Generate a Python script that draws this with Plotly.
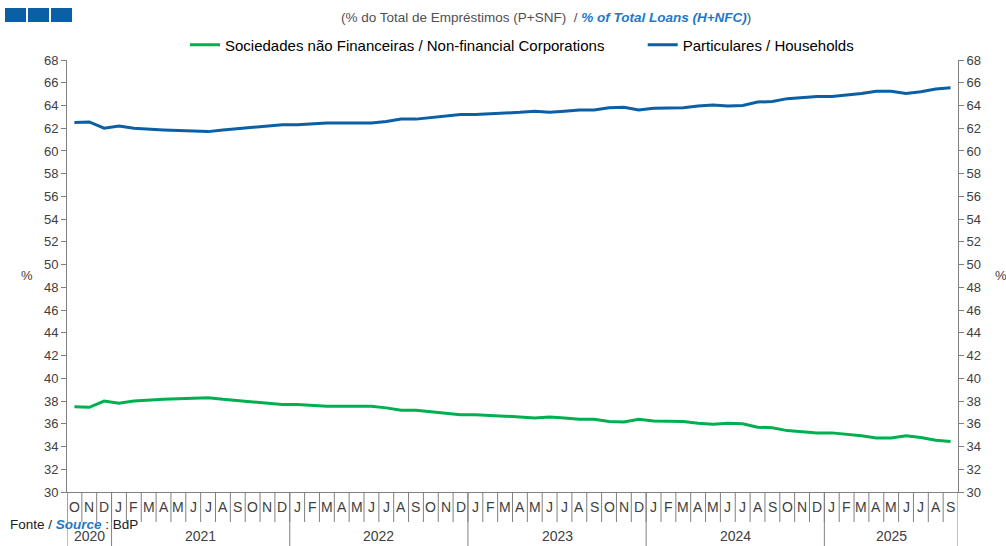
import plotly.graph_objects as go

months = ["O","N","D",
          "J","F","M","A","M","J","J","A","S","O","N","D",
          "J","F","M","A","M","J","J","A","S","O","N","D",
          "J","F","M","A","M","J","J","A","S","O","N","D",
          "J","F","M","A","M","J","J","A","S","O","N","D",
          "J","F","M","A","M","J","J","A","S"]
years = ["2020", "2021", "2022", "2023", "2024", "2025"]
year_counts = [3, 12, 12, 12, 12, 9]

households = [62.5, 62.55, 62.0, 62.2, 62.0, 61.9, 61.85, 61.8, 61.75, 61.7, 61.85, 61.95,
              62.1, 62.15, 62.3, 62.3, 62.4, 62.45, 62.45, 62.45, 62.45, 62.6, 62.8, 62.8,
              62.95, 63.05, 63.2, 63.2, 63.25, 63.3, 63.4, 63.5, 63.4, 63.5, 63.6, 63.6,
              63.8, 63.85, 63.6, 63.75, 63.75, 63.8, 63.95, 64.05, 63.95, 64.0, 64.3, 64.35,
              64.6, 64.7, 64.8, 64.8, 64.9, 65.05, 65.25, 65.25, 65.05, 65.2, 65.45, 65.55]
nfc = [37.5, 37.45, 38.0, 37.8, 38.0, 38.1, 38.15, 38.2, 38.25, 38.3, 38.15, 38.05,
       37.9, 37.85, 37.7, 37.7, 37.6, 37.55, 37.55, 37.55, 37.55, 37.4, 37.2, 37.2,
       37.05, 36.95, 36.8, 36.8, 36.75, 36.7, 36.6, 36.5, 36.6, 36.5, 36.4, 36.4,
       36.2, 36.15, 36.4, 36.25, 36.25, 36.2, 36.05, 35.95, 36.05, 36.0, 35.7, 35.65,
       35.4, 35.3, 35.2, 35.2, 35.1, 34.95, 34.75, 34.75, 34.95, 34.8, 34.55, 34.45]

x = list(range(len(months)))
GREEN = "#00B050"
BLUE = "#0B5FA5"
GRAY = "#808080"
TXT = "#404040"
FONT = "Liberation Sans, Arial, sans-serif"

fig = go.Figure()
fig.add_trace(go.Scatter(x=x, y=nfc, mode="lines",
                         name="Sociedades não Financeiras / Non-financial Corporations" + "\u00a0" * 8,
                         line=dict(color=GREEN, width=3)))
fig.add_trace(go.Scatter(x=x, y=households, mode="lines", name="Particulares / Households",
                         line=dict(color=BLUE, width=3)))
fig.add_trace(go.Scatter(x=x, y=households, mode="lines", yaxis="y2", showlegend=False,
                         hoverinfo="skip", line=dict(color="rgba(0,0,0,0)", width=0)))

PH = 432.0
PW = 891.0
shapes = []
annotations = []
# month separators & labels
for i, m in enumerate(months):
    shapes.append(dict(type="line", xref="x", yref="paper", x0=i - 0.5, x1=i - 0.5,
                       y0=0, y1=-30 / PH, line=dict(color=GRAY, width=1)))
    annotations.append(dict(xref="x", yref="paper", x=i, y=-15 / PH, text=m, showarrow=False,
                            font=dict(size=14, color=TXT, family=FONT), xanchor="center", yanchor="middle"))
# year separators & labels
start = 0
for yr, c in zip(years, year_counts):
    shapes.append(dict(type="line", xref="x", yref="paper", x0=start - 0.5, x1=start - 0.5,
                       y0=0, y1=-54 / PH, line=dict(color=GRAY, width=1)))
    annotations.append(dict(xref="x", yref="paper", x=start + (c - 1) / 2, y=-44 / PH, text=yr,
                            showarrow=False, font=dict(size=14, color=TXT, family=FONT),
                            xanchor="center", yanchor="middle"))
    start += c
shapes.append(dict(type="line", xref="x", yref="paper", x0=start - 0.5, x1=start - 0.5,
                   y0=0, y1=-54 / PH, line=dict(color=GRAY, width=1)))

# logo squares
for k in range(3):
    shapes.append(dict(type="rect", xref="paper", yref="paper",
                       x0=(5 + k * 23 - 67) / PW, x1=(26 + k * 23 - 67) / PW,
                       y0=1 + (60 - 22) / PH, y1=1 + (60 - 8) / PH,
                       fillcolor="#0B5FA5", line=dict(width=0)))

annotations.append(dict(xref="paper", yref="paper", x=(546 - 67) / PW, y=1 + (60 - 17) / PH,
                        text="(% do Total de Empréstimos (P+SNF)  / <b><i><span style='color:#1F78C8'>% of Total Loans (H+NFC)</span></i></b>)",
                        showarrow=False, font=dict(size=13.5, color="#505050", family=FONT),
                        xanchor="center", yanchor="middle"))
annotations.append(dict(xref="paper", yref="paper", x=(27 - 67) / PW, y=(492 - 275) / PH, text="%",
                        showarrow=False, font=dict(size=13, color=TXT, family=FONT),
                        xanchor="center", yanchor="middle"))
annotations.append(dict(xref="paper", yref="paper", x=(1001 - 67) / PW, y=(492 - 275) / PH, text="%",
                        showarrow=False, font=dict(size=13, color=TXT, family=FONT),
                        xanchor="center", yanchor="middle"))
annotations.append(dict(xref="paper", yref="paper", x=(8 - 67) / PW, y=(492 - 524) / PH,
                        text="Fonte / <b><i><span style='color:#1F78C8'>Source</span></i></b> : BdP",
                        showarrow=False, font=dict(size=13.5, color="#202020", family=FONT),
                        xanchor="left", yanchor="middle"))

yax = dict(range=[30, 68], dtick=2, tick0=30, showgrid=False, zeroline=False, showline=True,
           linecolor=GRAY, linewidth=1, ticks="outside", ticklen=5, tickcolor=GRAY,
           tickfont=dict(size=13, color=TXT, family=FONT), fixedrange=True, automargin=False)

fig.update_layout(
    width=1006, height=546,
    margin=dict(l=67, r=48, t=60, b=54, autoexpand=False),
    paper_bgcolor="white", plot_bgcolor="white",
    font=dict(family=FONT, color=TXT),
    showlegend=True,
    legend=dict(orientation="h", x=(522 - 67) / PW, xanchor="center", y=1 + 15 / PH, yanchor="middle",
                font=dict(size=15, color="#000000", family=FONT), itemwidth=30,
                bgcolor="rgba(0,0,0,0)"),
    xaxis=dict(range=[-0.5, len(months) - 0.5], showticklabels=False, ticks="", showgrid=False,
               zeroline=False, showline=True, linecolor=GRAY, linewidth=1, automargin=False),
    yaxis=yax,
    yaxis2=dict(yax, overlaying="y", side="right"),
    shapes=shapes,
    annotations=annotations,
)

fig.write_html("out.html", config={"displayModeBar": False},
               post_script="document.body.style.margin='0';document.body.style.overflow='hidden';")
